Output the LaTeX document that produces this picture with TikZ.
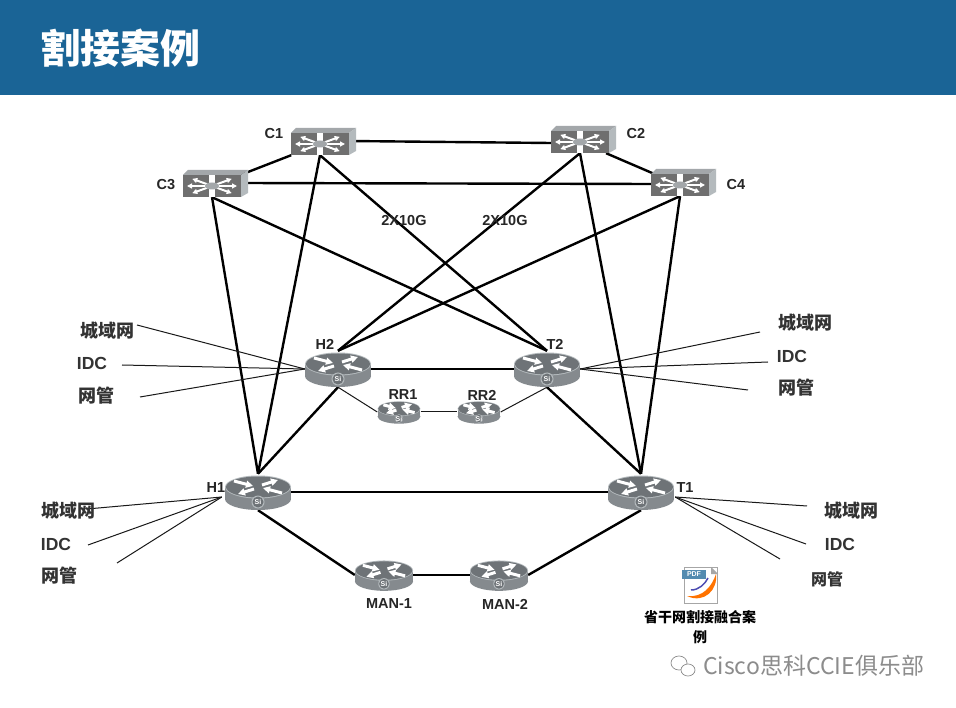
\documentclass[tikz,border=0pt]{standalone}
\usepackage{xcolor}
\usepackage{fontspec}
\usepackage{tikz}
\usetikzlibrary{arrows.meta,positioning}
\setmainfont{Liberation Sans}
\newfontfamily\cjk{Noto Sans CJK SC}
\definecolor{CutBlue}{HTML}{1A6496}
\definecolor{CutBody}{HTML}{858A8E}
\definecolor{CutTop}{HTML}{6E7377}
\definecolor{CutRim}{HTML}{B4BABD}
\definecolor{CutFront}{HTML}{6F6F6F}
\definecolor{CutMark}{HTML}{A3A7AA}
\tikzset{
  x=1pt, y=-1pt,
  ctswitch/.style={minimum width=58pt, minimum height=22pt, inner sep=0pt},
  ctrouter/.style={minimum width=66pt, minimum height=36pt, inner sep=0pt},
  ctmid/.style={minimum width=58pt, minimum height=30pt, inner sep=0pt},
  ctsmall/.style={minimum width=43pt, minimum height=20pt, inner sep=0pt},
  cttrunk/.style={line width=2.4pt, draw=black},
  ctlink/.style={line width=1pt, draw=black!90},
  ctname/.style={font=\bfseries\fontsize{14.5}{16}\selectfont, text=black!85, inner sep=0pt},
  ctnet/.style={font=\cjk\bfseries\fontsize{18}{20}\selectfont, text=black!80, inner sep=0pt},
  ctwhite/.style={-{Triangle[length=7pt,width=7pt]}, line width=3pt, draw=white},
  routerpic/.pic={
    \fill[CutBody] (0,7) ellipse [x radius=33, y radius=11];
    \fill[CutBody] (-33,-5) rectangle (33,7);
    \fill[CutRim] (0,-5) ellipse [x radius=33, y radius=11.5];
    \fill[CutTop] (0,-5) ellipse [x radius=32, y radius=10.5];
    \draw[ctwhite] (-24,-11) -- (-5,-6);
    \draw[ctwhite] (24,1) -- (5,-4);
    \draw[ctwhite] (-4,-3) -- (-20,2);
    \draw[ctwhite] (4,-7) -- (20,-12);
    \fill[CutRim] (0,10) circle [radius=6.5];
    \fill[CutTop] (0,10) circle [radius=5.5];
    \node[text=white, font=\bfseries\fontsize{7}{8}\selectfont, inner sep=0pt] (badge) at (0,10) {Si};
  },
  switchpic/.pic={
    \fill[CutMark] (-29,-11) -- (-24,-16) -- (36,-16) -- (29,-11) -- cycle;
    \fill[CutRim] (29,-11) -- (36,-16) -- (36,7) -- (29,11) -- cycle;
    \fill[CutFront] (-29,-11) rectangle (29,11);
    \foreach \ang in {20,160,200,340} {
      \draw[-{Triangle[length=5pt,width=5pt]}, line width=2pt, white] (\ang:5) -- (\ang:21);
    }
    \foreach \ang in {0,180} {
      \draw[-{Triangle[length=5pt,width=5pt]}, line width=2pt, white] (\ang:5) -- (\ang:25);
    }
    \fill[white] (-3,-11) rectangle (3,11);
    \fill[CutMark] (0,0) ellipse [x radius=7, y radius=3.5];
  }
}

\begin{document}
\begin{tikzpicture}
  \useasboundingbox (0,0) rectangle (956,708);
  \fill[white] (0,0) rectangle (956,708);
  \fill[CutBlue] (0,0) rectangle (956,95);
  \node[font=\cjk\bfseries\fontsize{40}{42}\selectfont, text=white, inner sep=0pt] (title) at (120,48) {割接案例};

  % core switches
  \node[ctswitch] (C1) at (320,144) {};
  \node[ctswitch] (C2) at (580,142) {};
  \node[ctswitch] (C3) at (212,186) {};
  \node[ctswitch] (C4) at (680,185) {};
  % routers
  \node[ctrouter] (H2) at (338,369) {};
  \node[ctrouter] (T2) at (547,369) {};
  \node[ctrouter] (H1) at (258,492) {};
  \node[ctrouter] (T1) at (641,492) {};
  \node[ctsmall] (RR1) at (399,412) {};
  \node[ctsmall] (RR2) at (479,412) {};
  \node[ctmid] (MAN1) at (384,575) {};
  \node[ctmid] (MAN2) at (499,575) {};

  % free ends of the access lines
  \coordinate (h2a) at (137,325);
  \coordinate (h2b) at (122,365);
  \coordinate (h2c) at (140,397);
  \coordinate (t2a) at (760,332);
  \coordinate (t2b) at (768,362);
  \coordinate (t2c) at (748,390);
  \coordinate (h1a) at (87,509);
  \coordinate (h1b) at (88,545);
  \coordinate (h1c) at (117,563);
  \coordinate (t1a) at (807,506);
  \coordinate (t1b) at (806,544);
  \coordinate (t1c) at (780,559);

  \draw[cttrunk] ([yshift=3pt]C1.east) -- ([yshift=-1pt]C2.west);
  \draw[cttrunk] ([yshift=3pt]C3.east) -- ([yshift=1pt]C4.west);
  \foreach \a/\b in {C1/C3,C2/C4,H2/T2,H1/T1,MAN1/MAN2} {
    \draw[cttrunk] (\a) -- (\b);
  }
  \foreach \a/\b in {C1/T2,C2/H2,C3/T2,C4/H2,C1/H1,C3/H1,C2/T1,C4/T1,H2/H1,T2/T1} {
    \draw[cttrunk] (\a.south) -- (\b.north);
  }
  \draw[cttrunk] (H1.south) -- (MAN1.west);
  \draw[cttrunk] (T1.south) -- (MAN2.east);
  \draw[ctlink] (H2.south) -- (RR1.west);
  \draw[ctlink] (RR1) -- (RR2);
  \draw[ctlink] (T2.south) -- (RR2.east);
  \foreach \e in {h2a,h2b,h2c} { \draw[ctlink] (H2.west) -- (\e); }
  \foreach \e in {t2a,t2b,t2c} { \draw[ctlink] (T2.east) -- (\e); }
  \foreach \e in {h1a,h1b,h1c} { \draw[ctlink] (H1.west) ++(-3,5) -- (\e); }
  \foreach \e in {t1a,t1b,t1c} { \draw[ctlink] (T1.east) ++(1,5) -- (\e); }

  % device pictures go over the line ends
  \foreach \n in {C1,C2,C3,C4} { \pic at (\n) {switchpic}; }
  \foreach \n in {H2,T2,H1,T1} { \pic at (\n) {routerpic}; }
  \foreach \n in {RR1,RR2} { \pic[scale=.65] at (\n) {routerpic}; }
  \foreach \n in {MAN1,MAN2} { \pic[scale=.88] at (\n) {routerpic}; }

  % device names
  \node[ctname] (lc1) at (274,134) {C1};
  \node[ctname] (lc2) at (636,134) {C2};
  \node[ctname] (lc3) at (166,185) {C3};
  \node[ctname] (lc4) at (736,185) {C4};
  \node[ctname] (lh2) at (325,344) {H2};
  \node[ctname] (lt2) at (555,344) {T2};
  \node[ctname] (lrr1) at (403,395) {RR1};
  \node[ctname] (lrr2) at (482,395) {RR2};
  \node[ctname] (lh1) at (216,488) {H1};
  \node[ctname] (lt1) at (685,488) {T1};
  \node[ctname] (lman1) at (389,604) {MAN-1};
  \node[ctname] (lman2) at (505,604) {MAN-2};
  \node[ctname] (bw1) at (404,221) {2X10G};
  \node[ctname] (bw2) at (505,221) {2X10G};

  % access networks
  \foreach \t/\px/\py/\id in {城域网/107/331/a1,网管/96/396/a3,城域网/805/323/b1,网管/796/388/b3,
      城域网/68/511/c1,网管/59/576/c3,城域网/851/511/d1} {
    \node[ctnet] (\id) at (\px,\py) {\t};
  }
  \node[ctnet, font=\cjk\bfseries\fontsize{16}{18}\selectfont] (d3) at (827,579) {网管};
  \foreach \px/\py/\id in {92/363/a2,792/356/b2,56/544/c2,840/544/d2} {
    \node[ctname, font=\bfseries\fontsize{17.5}{19}\selectfont, text=black!80] (\id) at (\px,\py) {IDC};
  }

  % attachment icon
  \node[minimum width=33pt, minimum height=36pt, inner sep=0pt, draw=black!35, fill=white] (pdf) at (701,585) {};
  \fill[black!35] (711,567) -- (718,574) -- (711,574) -- cycle;
  \fill[orange!90!red] (687,596) .. controls (703,598) and (712,586) .. (716,574)
    .. controls (718,590) and (704,604) .. (687,596) -- cycle;
  \draw[line width=1.5pt, blue!40!gray] (691,590) .. controls (699,590) and (705,584) .. (708,578);
  \fill[CutBlue!75] (682,570) rectangle (706,579);
  \node[text=white, font=\bfseries\fontsize{7}{8}\selectfont, inner sep=0pt] (pdftag) at (694,574.5) {PDF};
  \node[font=\cjk\bfseries\fontsize{14}{20}\selectfont, align=center, inner sep=0pt] (pdfname) at (700,627) {省干网割接融合案\\例};

  % watermark
  \draw[black!45, line width=.7pt] (679,663) ellipse [x radius=8, y radius=7];
  \draw[black!45, line width=.7pt, fill=white] (688,670) ellipse [x radius=7, y radius=6];
  \node[font=\cjk\fontsize{23}{25}\selectfont, text=black!45, inner sep=0pt, anchor=west] (mark) at (703,666) {Cisco思科CCIE俱乐部};
\end{tikzpicture}
\end{document}
